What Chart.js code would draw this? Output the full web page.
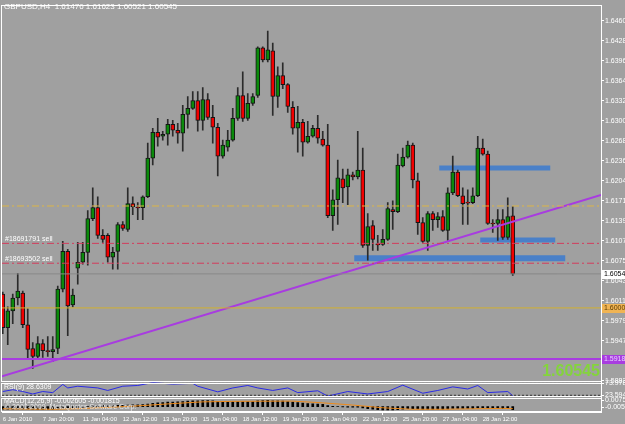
<!DOCTYPE html>
<html>
<head>
<meta charset="utf-8">
<script src="https://cdn.jsdelivr.net/npm/chart.js@4.4.1/dist/chart.umd.min.js"></script>
<style>
  html, body { margin: 0; padding: 0; background: #a0a0a0; }
  #wrap { width: 625px; height: 424px; }
</style>
</head>
<body>
<div id="wrap"><canvas id="gbp-chart" width="625" height="424"></canvas></div>
<script>
// GBPUSD H4 candles, one entry per bar (bar 0 = first visible bar)
const opens = [
  1.60223, 1.59682, 1.59952, 1.60159, 1.60239, 1.59730, 1.59349, 1.59221, 1.59428, 1.59316,
  1.59300, 1.59349, 1.60302, 1.60906, 1.60048, 1.60636, 1.60731, 1.60890, 1.61431, 1.61606,
  1.61161, 1.61161, 1.60811, 1.60906, 1.61336, 1.61256, 1.61670, 1.61606, 1.61606, 1.61781,
  1.62401, 1.62815, 1.62751, 1.62783, 1.62942, 1.62846, 1.62799, 1.63101, 1.63196, 1.63323,
  1.63005, 1.63339, 1.63053, 1.62894, 1.62433, 1.62576, 1.62687, 1.63037, 1.63403, 1.63037,
  1.63276, 1.63403, 1.64166, 1.63975, 1.64118, 1.63387, 1.63721, 1.63578, 1.63212, 1.62878,
  1.62974, 1.62655, 1.62751, 1.62878, 1.62703, 1.62608, 1.61479, 1.61733, 1.62067, 1.61940,
  1.62131, 1.62099, 1.62210, 1.61002, 1.61320, 1.61018, 1.61018, 1.61097, 1.61574, 1.61543,
  1.62274, 1.62417, 1.62608, 1.62035, 1.61367, 1.61065, 1.61511, 1.61415, 1.61463, 1.61240,
  1.61844, 1.62178, 1.61797, 1.61686, 1.61686, 1.61797, 1.62560, 1.62465, 1.61352, 1.61352,
  1.61415, 1.61129, 1.61476
];
const highs = [
  1.60255, 1.60016, 1.60223, 1.60556, 1.60270, 1.59984, 1.59444, 1.59539, 1.59491, 1.59539,
  1.59539, 1.60350, 1.61065, 1.60938, 1.60302, 1.61050, 1.61050, 1.61558, 1.61924, 1.61781,
  1.61256, 1.61192, 1.60970, 1.61367, 1.61383, 1.61924, 1.61781, 1.61686, 1.61797, 1.62640,
  1.62878, 1.63037, 1.62830, 1.63021, 1.63005, 1.62958, 1.63244, 1.63387, 1.63466, 1.63466,
  1.63530, 1.63435, 1.63244, 1.62958, 1.62687, 1.62846, 1.63196, 1.63530, 1.63784, 1.63435,
  1.63435, 1.64182, 1.64182, 1.64436, 1.64245, 1.63864, 1.63927, 1.63594, 1.63307, 1.63228,
  1.63021, 1.62989, 1.62926, 1.63085, 1.62830, 1.62942, 1.61892, 1.62369, 1.62226, 1.62226,
  1.62178, 1.62830, 1.62560, 1.61511, 1.61399, 1.61161, 1.61256, 1.61686, 1.61717, 1.62465,
  1.62560, 1.62671, 1.62640, 1.62162, 1.61447, 1.61543, 1.61543, 1.61527, 1.61558, 1.61924,
  1.62433, 1.62210, 1.61924, 1.61892, 1.61924, 1.62751, 1.62703, 1.62512, 1.61415, 1.61574,
  1.61574, 1.61765, 1.61623
];
const lows = [
  1.59587, 1.59412, 1.59746, 1.60048, 1.59682, 1.59189, 1.59030, 1.59173, 1.59205, 1.59221,
  1.59141, 1.59268, 1.60255, 1.59555, 1.60016, 1.60382, 1.60700, 1.60684, 1.61399, 1.61113,
  1.61050, 1.60731, 1.60620, 1.60620, 1.61240, 1.61224, 1.61495, 1.61415, 1.61415, 1.61765,
  1.62290, 1.62592, 1.62687, 1.62608, 1.62751, 1.62640, 1.62512, 1.62878, 1.63180, 1.62830,
  1.62846, 1.63021, 1.62640, 1.62115, 1.62401, 1.62512, 1.62671, 1.63005, 1.62989, 1.63005,
  1.63244, 1.63371, 1.63943, 1.63943, 1.63085, 1.63212, 1.63514, 1.63132, 1.62783, 1.62496,
  1.62433, 1.62640, 1.62735, 1.62640, 1.62592, 1.61447, 1.61240, 1.61336, 1.61686, 1.61654,
  1.62051, 1.62067, 1.60970, 1.60763, 1.60922, 1.60922, 1.61002, 1.61081, 1.61256, 1.61527,
  1.62258, 1.62401, 1.61924, 1.61176, 1.61050, 1.60922, 1.61240, 1.61288, 1.61224, 1.61081,
  1.61813, 1.61781, 1.61336, 1.61336, 1.61670, 1.61781, 1.62449, 1.61336, 1.61208, 1.61081,
  1.61097, 1.61097, 1.60521
];
const closes = [
  1.59682, 1.59952, 1.60159, 1.60270, 1.59730, 1.59333, 1.59221, 1.59428, 1.59316, 1.59300,
  1.59333, 1.60302, 1.60906, 1.60032, 1.60207, 1.60731, 1.60890, 1.61431, 1.61606, 1.61161,
  1.61097, 1.60811, 1.60890, 1.61336, 1.61272, 1.61670, 1.61622, 1.61601, 1.61781, 1.62401,
  1.62815, 1.62735, 1.62783, 1.62942, 1.62846, 1.62799, 1.63101, 1.63196, 1.63323, 1.63005,
  1.63339, 1.63053, 1.62894, 1.62433, 1.62608, 1.62687, 1.63037, 1.63403, 1.63037, 1.63276,
  1.63387, 1.64166, 1.63975, 1.64134, 1.63387, 1.63721, 1.63578, 1.63228, 1.62878, 1.62974,
  1.62655, 1.62751, 1.62878, 1.62719, 1.62608, 1.61479, 1.61733, 1.62083, 1.61924, 1.62131,
  1.62099, 1.62210, 1.61002, 1.61304, 1.61097, 1.61010, 1.61097, 1.61590, 1.61543, 1.62290,
  1.62417, 1.62608, 1.62051, 1.61367, 1.61065, 1.61511, 1.61415, 1.61463, 1.61240, 1.61844,
  1.62178, 1.61797, 1.61670, 1.61678, 1.61797, 1.62560, 1.62465, 1.61352, 1.61344, 1.61415,
  1.61129, 1.61463, 1.60545
];

// time axis
const timeTickBars = [0, 8, 16, 24, 32, 40, 48, 56, 64, 72, 80, 88, 96];
const timeLabels = ['6 Jan 2010', '7 Jan 20:00', '11 Jan 04:00', '12 Jan 12:00', '13 Jan 20:00',
  '15 Jan 04:00', '18 Jan 12:00', '19 Jan 20:00', '21 Jan 04:00', '22 Jan 12:00',
  '25 Jan 20:00', '27 Jan 04:00', '28 Jan 12:00'];

// price axis
const priceTicks = [1.64600, 1.64280, 1.63960, 1.63640, 1.63320, 1.63000, 1.62680, 1.62360,
  1.62040, 1.61715, 1.61395, 1.61075, 1.60755, 1.60435, 1.60115, 1.59795, 1.59475, 1.59155, 1.58835];

// RSI(9) read at some bars
const rsiBars = [0, 2, 4, 6, 8, 10, 12, 13, 15, 19, 21, 24, 27, 30, 34, 38, 39, 43, 46, 49,
  51, 54, 57, 59, 63, 65, 69, 73, 77, 80, 84, 87, 90, 93, 95, 97, 101, 102];
const rsiValues = [42.7, 48.8, 42.7, 34.4, 42.7, 39.0, 66.8, 54.9, 60.7, 54.9, 46.3, 60.7, 63.2, 72.9,
  67.9, 70.4, 60.7, 41.6, 54.9, 63.2, 54.9, 46.3, 54.9, 39.0, 45.2, 27.2, 42.7, 34.4, 42.7, 64.3,
  36.9, 46.3, 58.5, 51.3, 63.2, 39.0, 42.7, 28.6309];
const rsiLevels = [70, 30];

// MACD(12,26,9) main, one per bar, and signal read at some bars
const macdMain = [
  -0.0022, -0.0022, -0.0021, -0.0019, -0.0019, -0.0020, -0.0022, -0.0023, -0.0024, -0.0024,
  -0.0024, -0.0020, -0.0014, -0.0012, -0.0010, -0.0007, -0.0004, 0.0000, 0.0004, 0.0006,
  0.0007, 0.0007, 0.0007, 0.0009, 0.0010, 0.0012, 0.0013, 0.0014, 0.0015, 0.0020,
  0.0026, 0.0030, 0.0033, 0.0036, 0.0037, 0.0038, 0.0041, 0.0044, 0.0046, 0.0046,
  0.0048, 0.0048, 0.0046, 0.0042, 0.0040, 0.0038, 0.0038, 0.0040, 0.0040, 0.0040,
  0.0041, 0.0047, 0.0049, 0.0050, 0.0047, 0.0046, 0.0044, 0.0041, 0.0036, 0.0032,
  0.0028, 0.0025, 0.0023, 0.0021, 0.0018, 0.0008, 0.0002, -0.0001, -0.0003, -0.0004,
  -0.0005, -0.0005, -0.0012, -0.0017, -0.0021, -0.0025, -0.0027, -0.0027, -0.0028, -0.0025,
  -0.0021, -0.0017, -0.0017, -0.0019, -0.0023, -0.0023, -0.0023, -0.0022, -0.0022, -0.0020,
  -0.0016, -0.0015, -0.0016, -0.0016, -0.0016, -0.0012, -0.0010, -0.0014, -0.0016, -0.0017,
  -0.0018, -0.0018, -0.0026
];
const signalBars = [0, 10, 16, 22, 28, 34, 40, 46, 52, 58, 64, 70, 76, 82, 88, 94, 100, 102];
const signalValues = [-0.0018, -0.0022, -0.0016, -0.0005, 0.0008, 0.0024, 0.0038, 0.0042, 0.0043,
  0.0044, 0.0030, 0.0012, -0.0010, -0.0022, -0.0022, -0.0018, -0.0015, -0.0017];

// chart objects (prices)
const goldLevel = 1.61633;             // dash-dot yellow
const orderPrices = [1.61034, 1.60716];
const orderLabels = ['#18691791 sell', '#18693502 sell'];
const bidPrice = 1.60545;
const roundLevel = 1.60000;            // solid yellow
const purpleLevel = 1.59180;
const trendBars = [-0.15, 119.65];
const trendPrices = [1.58906, 1.61811];
const zoneFrom = [87.3, 95.5, 70.3];
const zoneTo = [109.5, 110.5, 112.5];
const zonePrices = [1.62242, 1.61089, 1.60795];
const zoneThick = [5, 5, 6];

const xFirst = -0.15, xLast = 119.65;
const bullColor = '#0b8a0b', bearColor = '#f20000';

const flat = (p, a, b) => [{x: a, y: p}, {x: b, y: p}];
const lineSet = (data, color, width, extra) => Object.assign({
  type: 'line', data: data, borderColor: color, borderWidth: width,
  pointRadius: 0, tension: 0, yAxisID: 'y', order: 1
}, extra || {});

const datasets = [];

zonePrices.forEach((p, k) => {
  datasets.push(lineSet(flat(p, zoneFrom[k], zoneTo[k]), '#4a80c8', zoneThick[k], {borderCapStyle: 'butt', order: 6}));
});

datasets.push({
  type: 'bar',
  data: highs.map((h, i) => ({x: i, y: [lows[i], h]})),
  backgroundColor: '#2b2b2b',
  barThickness: 1,
  grouped: false,
  yAxisID: 'y',
  order: 5
});
datasets.push({
  type: 'bar',
  data: opens.map((o, i) => ({x: i, y: [o, closes[i]]})),
  backgroundColor: ctx => closes[ctx.dataIndex] >= opens[ctx.dataIndex] ? bullColor : bearColor,
  borderColor: '#151515',
  borderWidth: 1,
  borderSkipped: false,
  barThickness: 4,
  minBarLength: 1,
  grouped: false,
  yAxisID: 'y',
  order: 4
});

datasets.push(lineSet(flat(goldLevel, xFirst, xLast), '#dcb646', 1, {borderDash: [7, 3, 2, 3]}));
orderPrices.forEach(p => datasets.push(lineSet(flat(p, xFirst, xLast), '#d23c5c', 1, {borderDash: [7, 3, 2, 3]})));
datasets.push(lineSet(flat(bidPrice, xFirst, xLast), '#888888', 1));
datasets.push(lineSet(flat(roundLevel, xFirst, xLast), '#d2b030', 1));
datasets.push(lineSet(flat(purpleLevel, xFirst, xLast), '#a83ce0', 2));
datasets.push(lineSet(trendBars.map((b, k) => ({x: b, y: trendPrices[k]})), '#a83ce0', 2));

// RSI panel
rsiLevels.forEach(l => datasets.push(lineSet(flat(l, xFirst, xLast), '#333333', 1, {borderDash: [2, 2], yAxisID: 'yRsi'})));
datasets.push(lineSet(rsiBars.map((b, k) => ({x: b, y: rsiValues[k]})), '#2a2ae6', 1, {yAxisID: 'yRsi'}));

// MACD panel
datasets.push({
  type: 'bar',
  data: macdMain.map((v, i) => ({x: i, y: v})),
  backgroundColor: '#000000',
  barThickness: 2,
  grouped: false,
  yAxisID: 'yMacd',
  order: 3
});
datasets.push(lineSet(signalBars.map((b, k) => ({x: b, y: signalValues[k]})), '#ee8a1a', 1, {yAxisID: 'yMacd'}));

const smallFont = {family: '"Liberation Sans", Arial, sans-serif', size: 7};
const timeFont = {family: '"Liberation Sans", Arial, sans-serif', size: 6};

function rightAxis(extra) {
  return Object.assign({
    type: 'linear',
    position: 'right',
    stack: 'panels',
    grid: {drawOnChartArea: false, color: '#ffffff', tickLength: 3},
    border: {color: '#ffffff'},
    afterFit: s => { s.width = 24; }
  }, extra);
}

const overlay = {
  id: 'overlay',
  afterDraw(chart) {
    const {ctx, chartArea: a, scales} = chart;
    const y = scales.y, yr = scales.yRsi, ym = scales.yMacd;
    ctx.save();

    // panel frames
    ctx.strokeStyle = '#ffffff';
    ctx.lineWidth = 1;
    [y, yr, ym].forEach((s, k) => {
      const top = Math.round(s.top) + (k ? 1.5 : 0.5);
      ctx.strokeRect(a.left - 0.5, top, a.right - a.left + 1, Math.round(s.bottom) - top - 0.5);
    });

    ctx.textBaseline = 'middle';
    ctx.fillStyle = '#ffffff';
    ctx.font = '8px "Liberation Sans", Arial, sans-serif';
    ctx.fillText('GBPUSD,H4  ' + [opens, highs, lows, closes].map(s => s[s.length - 1].toFixed(5)).join(' '), 4, 7);

    ctx.font = '7px "Liberation Sans", Arial, sans-serif';
    orderPrices.forEach((p, k) => {
      ctx.fillText(orderLabels[k], 5, y.getPixelForValue(p) - 4);
    });

    // price markers on the axis
    const marks = [
      [bidPrice, '#ffffff', '#000000'],
      [roundLevel, '#f0b454', '#5a3a00'],
      [purpleLevel, '#a83ce0', '#e8d0ff']
    ];
    marks.forEach(m => {
      const py = Math.round(y.getPixelForValue(m[0]));
      ctx.fillStyle = m[1];
      ctx.fillRect(a.right + 1, py - 4, 26, 9);
      ctx.fillStyle = m[2];
      ctx.fillText(m[0].toFixed(5), a.right + 3, py + 0.5);
    });

    // big last price
    ctx.font = 'bold 16px "Liberation Sans", Arial, sans-serif';
    ctx.textAlign = 'right';
    ctx.fillStyle = '#84d43c';
    ctx.fillText(closes[closes.length - 1].toFixed(5), a.right - 1, y.bottom - 11);

    ctx.font = '7px "Liberation Sans", Arial, sans-serif';
    ctx.textAlign = 'left';
    ctx.fillStyle = '#ffffff';
    ctx.fillText('RSI(9) ' + rsiValues[rsiValues.length - 1].toFixed(4), 4, yr.top + 5);
    ctx.fillText('MACD(12,26,9) -0.002605 -0.001815', 4, ym.top + 4);
    ctx.fillStyle = '#e6e6e6';
    ctx.fillText('\u00a9 2001-2009, MetaQuotes Software Corp.', 5, ym.top + 10);
    ctx.restore();
  }
};

new Chart(document.getElementById('gbp-chart'), {
  type: 'bar',
  data: {datasets: datasets},
  plugins: [overlay],
  options: {
    responsive: false,
    animation: false,
    events: [],
    layout: {padding: {left: 2, top: 1, right: 0, bottom: 0}},
    plugins: {legend: {display: false}, tooltip: {enabled: false}},
    scales: {
      x: {
        type: 'linear',
        offset: false,
        min: xFirst,
        max: xLast,
        afterBuildTicks: s => { s.ticks = timeTickBars.map(v => ({value: v})); },
        afterFit: s => { s.height = 12; },
        grid: {drawOnChartArea: false, color: '#ffffff', tickLength: 3},
        border: {color: '#ffffff'},
        ticks: {
          color: '#ffffff', font: timeFont, padding: 1, align: 'start',
          maxRotation: 0, autoSkip: false,
          callback: (v, i) => timeLabels[i]
        }
      },
      y: rightAxis({
        min: 1.58808, max: 1.64850, stackWeight: 381,
        afterBuildTicks: s => { s.ticks = priceTicks.map(v => ({value: v})); },
        ticks: {color: '#ffffff', font: smallFont, padding: 1, autoSkip: false, callback: v => v.toFixed(5)}
      }),
      yRsi: rightAxis({
        min: 23.5946, max: 73.9784, stackWeight: 15,
        afterBuildTicks: s => { s.ticks = [{value: 70}, {value: 30}]; },
        ticks: {color: '#ffffff', font: smallFont, padding: 1, autoSkip: false, callback: v => v === 70 ? '73.9784' : '23.5946'}
      }),
      yMacd: rightAxis({
        min: -0.0044, max: 0.0076, stackWeight: 15,
        afterBuildTicks: s => { s.ticks = [{value: 0.0052}, {value: -0.0008}]; },
        ticks: {color: '#ffffff', font: smallFont, padding: 1, autoSkip: false, callback: v => v > 0 ? '0.007564' : '-0.005516'}
      })
    }
  }
});
</script>
</body>
</html>
